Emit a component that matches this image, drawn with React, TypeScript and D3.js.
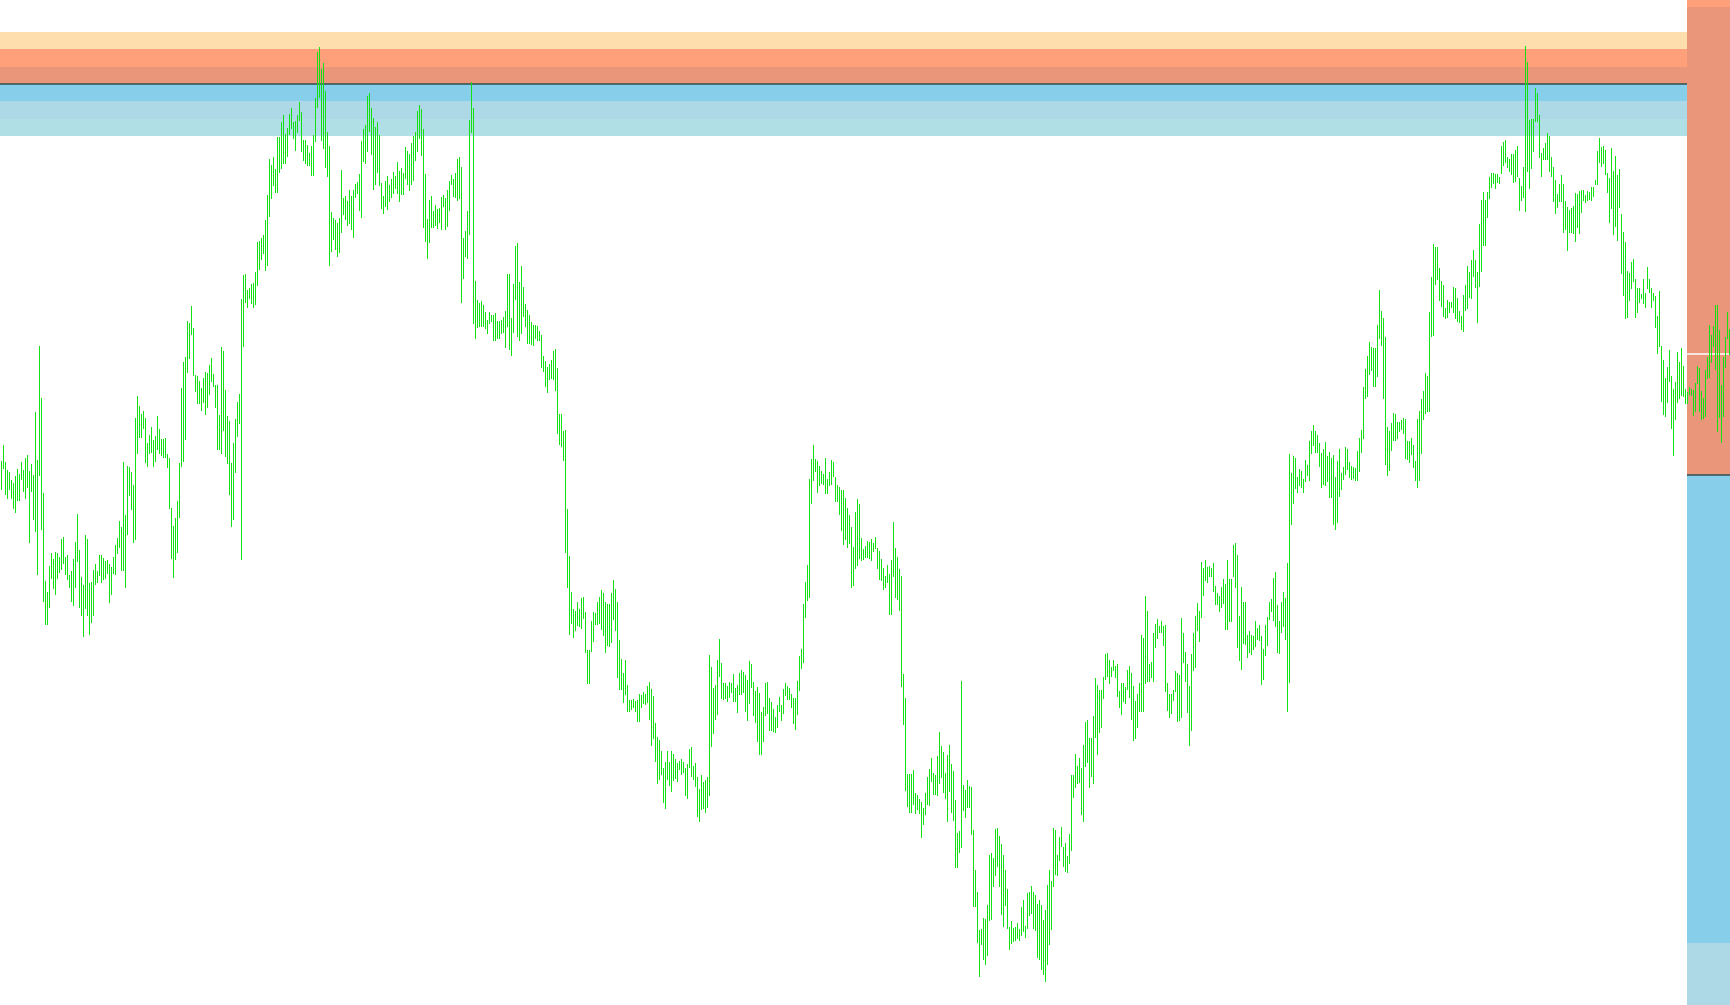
import React from "react";
import * as d3 from "d3";

// Bar highs / lows (price points), one per session
const highs: number[] = [
  539,555,538,530,528,520,517,524,531,526, 538,530,542,545,529,536,525,588,540,654,
  602,507,419,408,434,447,441,448,447,443, 461,463,443,445,425,429,441,458,486,450,
  423,415,465,461,417,418,430,436,429,445, 445,442,439,440,436,433,443,455,462,479,
  473,538,485,534,533,528,515,582,604,594, 586,589,582,557,565,573,560,564,584,571,
  561,561,562,546,542,492,474,482,499,537, 612,638,643,679,677,694,672,625,624,619,
  612,622,628,627,635,642,626,615,615,585, 653,649,610,584,579,537,557,581,598,606,
  701,725,726,710,712,716,717,728,758,759, 762,765,780,805,841,835,843,831,863,863,
  878,885,866,872,886,892,878,879,885,898, 888,860,860,855,847,854,865,902,948,953,
  931,937,909,868,854,788,782,780,777,782, 830,802,804,
  799,810,804,810,816,818,826,859,871,875, 904,907,892,882,873,878,865,817,804,819,
  824,815,821,828,824,838,829,832,827,853, 849,846,857,864,868,889,895,891,871,826,
  781,800,804,789,795,791,792,803,805,802, 810,819,825,821,827,841,843,833,762,769,
  789,880,918,892,719,700,697,699,695,688, 680,688,685,685,687,679,679,680,683,689,
  726,726,682,716,754,757,718,734,713,696, 690,685,678,675,675,674,669,665,644,639,
  633,636,640,649,651,632,586,586,569,570, 491,444,408,391,389,398,391,402,403,388,
  350,350,379,388,387,398,403,410,407,398, 396,396,407,420,411,398,360,341,327,340,
  315,300,300,301,299,300,306,305,308,306, 314,318,311,304,277,263,260,249,232,238,
  249,238,249,246,241,237,239,241,238,232, 236,251,253,
  234,237,223,211,225,218,220,223,345,333, 312,315,340,361,337,317,317,314,318,317,
  326,312,315,327,330,328,325,320,339,336, 318,309,313,307,288,293,317,318,302,298,
  291,283,295,303,295,311,317,314,312,306, 302,302,319,344,351,396,418,435,521,541,
  555,541,539,534,529,526,542,521,528,540, 538,523,515,513,510,510,502,492,485,473,
  453,488,501,496,462,451,454,459,458,461, 457,463,452,449,441,432,424,435,426,440,
  478,452,443,431,424,326,302,226,226,226, 230,207,205,201,198,192,207,223,231,242,
  227,225,244,268,254,248,227,245,255,236, 229,200,167,169,319,215,210,220,214,213,
  170,130,108,70,71,82,81,95,145,147, 142,171,172,164,156,145,130,111,73,79,
  72,73,77,71,93,100,74,107,108,114, 108,105,96,
  100,95,80,90,115,130,119,172,170,145, 163,173,153,157,144,166,225,225,246,234,
  242,232,255,278,280,262,262,284,322,315, 310,310,323,346,347,340,333,340,334,336,
  309,317,317,313,330,334,327,314,299,306, 317,365,362,404,389,336,338,367,376,381,
  374,379,374,375,317,306,306,310,329,327, 325,382,367,348,336,314,346,367,384,397,
  389,438,432,440,433,434,432,437,414,407, 404,413,421,416,440,421,421,455,457,445,
  384,413,398,398,365,369,365,364,379,372, 375,364,351,375,383,398,401,422,428,395,
  379,398,408,402,437,546,527,544,542,523, 531,529,521,540,535,559,569,575,569,565,
  557,547,551,558,544,548,542,545,523,539, 551,527,533,553,551,538,534,533,532,549,
  562,570,613,631,644,658,653,652,652,675, 710,689,682,
  663,573,569,577,587,586,578,578,580,582, 581,559,559,562,555,539,581,589,601,609,
  627,624,688,723,756,753,753,732,719,715, 692,700,698,698,713,712,702,689,684,705,
  715,734,728,740,750,740,728,776,800,808, 800,808,823,827,827,826,826,823,854,858,
  860,843,841,846,846,850,854,822,814,833, 954,938,880,881,881,912,907,885,847,852,
  857,867,864,843,833,820,806,816,825,816, 799,793,790,792,794,807,806,809,810,810,
  805,809,808,813,813,820,849,862,853,854, 850,827,822,852,829,844,825,831,786,768,
  758,729,727,738,741,721,712,712,706,721, 707,733,721,712,707,704,684,709,654,640,
  622,633,650,624,611,618,648,638,652,634, 611,608,613,611,610,617,634,632,609,602,
  630,643,675,665,674,695,695,670,615,643, 663,688,671
];

const lows: number[] = [
  510,531,505,501,510,501,491,487,499,499, 520,508,501,512,457,508,480,468,425,524,
  470,398,375,375,392,421,411,405,421,427, 430,436,425,420,412,398,394,412,438,392,
  384,363,391,384,365,377,384,415,417,424, 417,420,421,426,397,405,426,425,446,452,
  429,429,412,465,504,490,457,460,546,562, 562,571,537,533,546,547,533,538,550,546,
  544,542,542,532,491,441,422,440,447,482, 533,538,560,627,641,665,624,608,596,596,
  589,597,585,592,605,618,613,592,550,550, 546,569,543,536,505,473,480,527,563,576,
  440,653,697,692,701,696,692,695,714,730, 740,746,729,734,783,801,814,807,807,827,
  831,836,836,843,865,871,861,849,867,879, 848,839,836,834,834,824,824,858,892,902,
  859,851,832,823,734,748,760,750,743,747, 767,785,780,
  774,776,770,762,802,806,789,782,838,836, 848,868,845,810,815,827,814,791,786,793,
  790,798,802,806,811,806,798,805,805,821, 815,809,815,819,839,848,861,844,772,758,
  741,757,772,772,774,771,777,770,793,770, 773,789,815,803,802,799,801,697,721,743,
  741,765,867,676,661,672,673,673,673,671, 666,676,678,659,659,661,661,666,667,652,
  673,650,644,667,700,663,659,666,683,673, 656,656,655,654,661,659,659,632,628,613,
  607,620,621,620,609,566,555,553,539,447, 412,365,376,362,369,374,373,371,381,347,
  316,316,348,358,375,375,376,370,364,347, 354,353,357,380,369,322,310,310,297,305,
  288,288,290,292,288,278,278,292,296,295, 297,280,254,261,238,216,220,225,197,191,
  220,214,208,219,221,218,230,225,227,204, 201,232,223,
  220,213,183,178,190,191,187,192,204,253, 266,280,285,323,301,300,301,298,302,307,
  298,298,287,305,305,307,288,279,296,312, 284,277,258,245,245,258,284,286,269,269,
  268,267,272,288,279,286,304,300,300,292, 276,270,285,309,331,337,382,399,402,496,
  519,528,507,514,516,515,506,506,514,515, 523,498,498,485,469,455,460,452,456,412,
  414,431,434,441,439,440,442,442,441,439, 448,451,431,420,419,410,412,417,385,385,
  423,402,400,389,313,275,209,193,187,187, 195,186,190,186,162,175,185,195,194,218,
  205,205,204,216,222,207,201,178,208,187, 179,132,132,147,152,189,182,192,192,165,
  93,93,57,23,55,40,35,44,79,80, 113,124,133,113,85,73,94,71,50,56,
  58,59,61,59,64,68,62,71,84,86, 71,69,42,
  40,30,25,18,35,55,70,113,125,124, 139,153,133,128,127,136,149,202,212,216,
  217,185,178,233,237,212,223,216,262,245, 267,272,301,320,323,316,323,329,322,303,
  292,285,298,296,310,302,280,259,261,272, 288,288,288,316,318,318,322,318,352,361,
  367,367,354,308,289,282,286,299,308,278, 279,282,337,318,287,254,269,329,332,369,
  358,382,404,419,417,423,423,408,395,395, 388,392,396,370,370,378,378,423,412,352,
  339,330,356,355,342,347,345,350,353,360, 359,315,320,344,354,380,388,379,373,347,
  346,367,373,360,288,317,475,496,511,507, 514,512,507,518,524,519,546,554,547,547,
  533,512,515,514,518,502,502,475,470,477, 503,510,520,525,530,522,520,521,519,519,
  528,547,561,601,603,625,629,613,613,623, 661,654,601,
  535,524,529,549,559,559,561,568,570,566, 541,540,537,545,532,519,512,519,546,580,
  586,588,588,663,664,715,720,699,693,683, 681,682,687,692,687,681,678,677,670,668,
  689,691,702,701,723,712,677,713,728,754, 754,782,801,812,816,811,817,816,826,834,
  837,832,828,825,817,818,823,789,799,802, 788,828,811,831,848,878,878,842,823,840,
  840,840,828,823,798,786,792,798,798,767, 770,749,767,767,766,758,772,766,787,799,
  797,799,800,799,803,815,815,837,833,836, 825,807,777,791,765,773,759,792,726,704,
  681,682,699,711,718,682,687,697,701,696, 692,711,707,692,699,672,646,653,598,585,
  583,597,618,571,544,580,597,601,604,603, 596,596,605,604,584,588,616,588,580,581,
  583,621,622,637,653,630,568,582,557,583, 632,661,645
];

// Zone levels (price points) bounding the six coloured bands, top to bottom
const bandLevels: number[] = [968.2, 950.8, 933.4, 916, 898.6, 881.2, 863.8];
const bandColors: string[] = ["#FFDEAD", "#FFA07A", "#E9967A", "#87CEEB", "#ADD8E6", "#B0E0E6"];
const pivotLevel = 916;
const markerLevel = 920.5;
const priceDomain: [number, number] = [0, 1000];

export default function App() {
  const W = 1730;
  const H = 1005;
  const panelX = 1687;
  const n = Math.min(highs.length, lows.length);

  const x = d3.scaleLinear().domain([0, n - 1]).range([1, 1 + 2 * (n - 1)]);
  const y = d3.scaleLinear().domain(priceDomain).range([1000, 0]);
  // magnified zone scale used by the right-hand panel
  const zoomK = 26.9;
  const py = d3
    .scaleLinear()
    .domain([pivotLevel - 1, pivotLevel + 1])
    .range([475 + zoomK, 475 - zoomK]);

  const bands = bandColors.map((c, i) => ({ c, top: bandLevels[i], bottom: bandLevels[i + 1] }));

  return (
    <svg
      width={W}
      height={H}
      style={{ position: "absolute", left: 0, top: 0, display: "block", background: "#ffffff" }}
    >
      <defs>
        <clipPath id="panelClip">
          <rect x={panelX} y={0} width={W - panelX} height={H} />
        </clipPath>
      </defs>
      <rect x={0} y={0} width={W} height={H} fill="#ffffff" />
      {/* main zone bands */}
      <g shapeRendering="crispEdges">
        {bands.map((b, i) => (
          <rect
            key={"b" + i}
            x={0}
            y={y(b.top)}
            width={panelX}
            height={y(b.bottom) - y(b.top)}
            fill={b.c}
          />
        ))}
      </g>
      <line x1={0} x2={panelX} y1={y(pivotLevel)} y2={y(pivotLevel)} stroke="#2F4F4F" strokeWidth={1.5} />
      {/* right panel: magnified zones */}
      <g clipPath="url(#panelClip)" shapeRendering="crispEdges">
        {bands.map((b, i) => (
          <rect
            key={"p" + i}
            x={panelX}
            y={py(b.top)}
            width={W - panelX}
            height={py(b.bottom) - py(b.top)}
            fill={b.c}
          />
        ))}
      </g>
      <line x1={panelX} x2={W} y1={py(pivotLevel)} y2={py(pivotLevel)} stroke="#2F4F4F" strokeWidth={1.5} />
      <line x1={panelX} x2={W} y1={py(markerLevel)} y2={py(markerLevel)} stroke="#ffffff" strokeWidth={1.5} />
      {/* price bars (1px high-low bars) */}
      <g fill="#14E014" shapeRendering="crispEdges">
        {d3.range(n).map((i) => (
          <rect
            key={i}
            x={x(i)}
            y={y(highs[i])}
            width={1}
            height={Math.max(1, y(lows[i]) - y(highs[i]))}
          />
        ))}
      </g>
    </svg>
  );
}
